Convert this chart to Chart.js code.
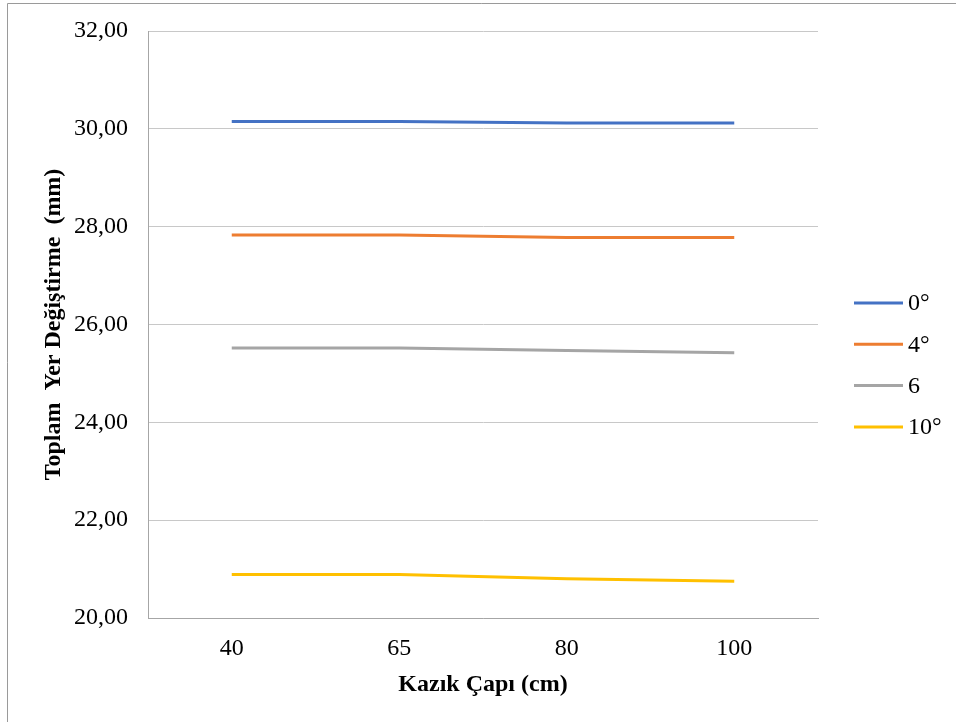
<!DOCTYPE html>
<html>
<head>
<meta charset="utf-8">
<script src="https://cdn.jsdelivr.net/npm/chart.js@4/dist/chart.umd.min.js"></script>
<style>
  body { margin: 0; background: #fff; }
</style>
</head>
<body>
<canvas id="pileChart" width="956" height="722"></canvas>
<script>
const categories = ['40', '65', '80', '100'];
const seriesLabels = ['0°', '4°', '6', '10°'];
const deg0 = [30.15, 30.15, 30.12, 30.12];
const deg4 = [27.83, 27.83, 27.78, 27.78];
const deg6 = [25.52, 25.52, 25.47, 25.42];
const deg10 = [20.89, 20.89, 20.80, 20.75];
const yTicks = [20, 22, 24, 26, 28, 30, 32];

const colors = ['#4472C4', '#ED7D31', '#A5A5A5', '#FFC000'];
const serif = "'Liberation Serif', 'Times New Roman', serif";

// outer frame + legend drawn by hand so positions match the original
const framePlugin = {
    id: 'frame',
    beforeDraw(chart) {
        const c = chart.ctx;
        c.save();
        c.strokeStyle = '#9a9a9a';
        c.lineWidth = 1;
        c.beginPath();
        c.moveTo(7.5, 722);
        c.lineTo(7.5, 3.5);
        c.lineTo(956, 3.5);
        c.stroke();
        c.restore();
    },
    afterDraw(chart) {
        const c = chart.ctx;
        c.save();
        c.font = '24px ' + serif;
        c.textBaseline = 'middle';
        c.fillStyle = '#000';
        chart.data.datasets.forEach((ds, i) => {
            const y = 303 + i * 41.3;
            c.strokeStyle = ds.borderColor;
            c.lineWidth = 3;
            c.beginPath();
            c.moveTo(854, y);
            c.lineTo(903, y);
            c.stroke();
            c.fillText(ds.label, 908, y + 1);
        });
        c.restore();
    }
};

const ctx = document.getElementById('pileChart').getContext('2d');

const pileChart = new Chart(ctx, {
    type: 'line',
    data: {
        labels: categories,
        datasets: [deg0, deg4, deg6, deg10].map((vals, i) => ({
            label: seriesLabels[i],
            data: vals,
            borderColor: colors[i],
            backgroundColor: colors[i],
            borderWidth: 3,
            pointRadius: 0,
            tension: 0
        }))
    },
    options: {
        responsive: false,
        animation: false,
        layout: { padding: { top: 31, right: 138, bottom: 0, left: 0 } },
        plugins: {
            legend: { display: false },
            tooltip: { enabled: false }
        },
        scales: {
            x: {
                offset: true,
                grid: { display: false, drawTicks: false, offset: true },
                border: { display: true, color: '#a6a6a6', width: 1 },
                ticks: { color: '#000', padding: 16, font: { family: serif, size: 24 } },
                title: {
                    display: true,
                    text: 'Kazık Çapı (cm)',
                    color: '#000',
                    font: { family: serif, size: 24, weight: 'bold' },
                    padding: { top: 0, bottom: 23 }
                },
                afterFit(scale) { scale.height = 104; }
            },
            y: {
                min: 20,
                max: 32,
                afterBuildTicks(scale) { scale.ticks = yTicks.map(v => ({ value: v })); },
                grid: { color: '#c8c8c8', drawTicks: false },
                border: { display: true, color: '#a6a6a6', width: 1 },
                ticks: {
                    color: '#000',
                    padding: 20,
                    font: { family: serif, size: 24 },
                    callback: v => v.toFixed(2).replace('.', ',')
                },
                title: {
                    display: true,
                    text: 'Toplam  Yer Değiştirme  (mm)',
                    color: '#000',
                    font: { family: serif, size: 24, weight: 'bold' },
                    padding: { top: 39, bottom: 0 }
                },
                afterFit(scale) {
                    scale.width = 148;
                    scale.paddingTop = 14;
                    scale.paddingBottom = 14;
                }
            }
        }
    },
    plugins: [framePlugin]
});
</script>
</body>
</html>
